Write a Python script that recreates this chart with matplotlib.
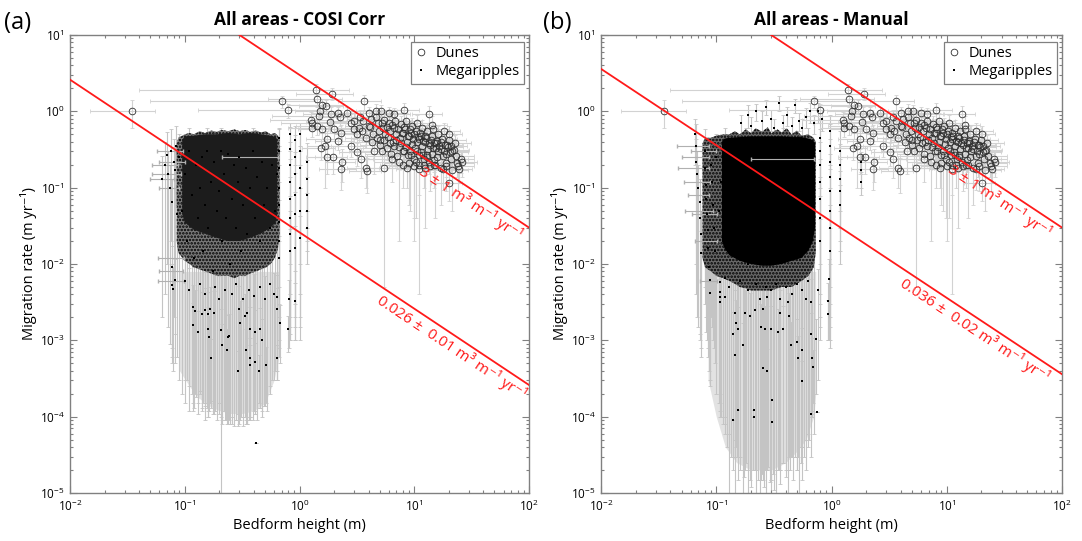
import numpy as np
import matplotlib
matplotlib.use('Agg')
import matplotlib.pyplot as plt
from matplotlib.lines import Line2D
from matplotlib.ticker import LogLocator, NullFormatter

plt.rcParams['font.family'] = ['Open Sans', 'DejaVu Sans']
plt.rcParams['mathtext.fontset'] = 'custom'
plt.rcParams['mathtext.rm'] = 'Open Sans'
plt.rcParams['mathtext.it'] = 'Open Sans:italic'
plt.rcParams['mathtext.bf'] = 'Open Sans:bold'
plt.rcParams['hatch.linewidth'] = 1.2

# dunes (same set in both panels): height, rate, and linear errors
dune_x = [0.035, 0.71, 0.80, 1.38, 1.93, 1.43, 1.58, 1.69, 1.52, 1.48, 1.25, 1.29, 1.87, 2.16, 2.25,
          1.29, 1.43, 1.58, 1.84, 2.0, 2.28, 1.75, 2.16, 1.55, 1.67, 1.75, 2.36, 2.28, 1.97,
          2.61, 2.79, 2.98, 3.19, 2.79, 3.19, 3.41, 3.77, 3.9, 3.65, 4.03, 4.61, 5.1, 6.0, 6.7, 8.1,
          13.5, 14.4, 20.1, 20.8, 25.5, 5.45, 8.7, 20.1, 24.6, 17.9, 14.8, 11.0, 12.1,
          3.6, 3.5, 3.8, 4.2, 4.1, 4.4, 4.3, 4.8, 4.9, 4.7, 5.0, 5.4, 5.3, 5.6, 5.5, 5.2,
          6.0, 6.2, 5.9, 6.1, 6.3, 6.8, 6.6, 7.0, 6.9, 6.7, 7.1, 7.6, 7.8, 7.5, 7.7, 7.9,
          8.5, 8.3, 8.8, 8.6, 8.4, 8.9, 9.5, 9.3, 9.8, 9.6, 9.2, 9.9,
          10.5, 10.3, 10.8, 10.6, 10.2, 10.9, 10.4, 11.7, 11.4, 12.0, 11.8, 11.5, 12.2,
          13.0, 12.7, 13.4, 13.1, 12.8, 13.5, 14.5, 14.2, 14.9, 14.6, 14.3, 15.0,
          16.0, 15.7, 16.4, 16.1, 15.8, 18.0, 17.6, 18.5, 18.2, 17.8, 18.8,
          20.0, 19.6, 20.5, 21.0, 22.5, 22.0, 23.0, 23.5,
          4.5, 5.8, 6.4, 7.3, 8.0, 9.0, 10.0, 11.0, 12.5, 13.8, 15.3, 17.0, 19.0, 21.5, 24.0, 26.0,
          4.6, 5.2, 5.8, 6.4, 7.2, 8.0, 8.1, 9.0, 9.1, 10.0, 11.0, 11.2, 12.4, 12.5, 13.8, 14.0, 15.4, 15.5,
          17.0, 17.2, 19.0, 19.2, 21.5, 5.0, 6.5, 7.4, 8.2, 9.4, 10.6, 11.9, 12.9, 4.0, 3.3, 3.0, 3.4]
dune_y = [1.0, 1.35, 1.03, 1.92, 1.70, 1.45, 1.22, 1.16, 1.0, 0.88, 0.78, 0.71, 0.93, 0.95, 0.85,
          0.61, 0.64, 0.58, 0.72, 0.58, 0.52, 0.44, 0.41, 0.33, 0.35, 0.25, 0.22, 0.174, 0.25,
          0.95, 0.71, 0.58, 0.50, 0.35, 0.29, 0.235, 0.18, 0.165, 1.35, 0.95, 1.0, 1.0, 0.95, 0.91, 1.05,
          0.91, 0.67, 0.50, 0.35, 0.235, 0.18, 0.18, 0.116, 0.174, 0.174, 0.2, 0.174, 0.2,
          0.75, 0.55, 0.45, 0.8, 0.62, 0.5, 0.4, 0.7, 0.55, 0.45, 0.36, 0.78, 0.6, 0.5, 0.42, 0.3,
          0.7, 0.55, 0.46, 0.38, 0.28, 0.75, 0.6, 0.5, 0.42, 0.35, 0.26, 0.68, 0.52, 0.45, 0.38, 0.3,
          0.75, 0.58, 0.48, 0.4, 0.34, 0.27, 0.65, 0.52, 0.43, 0.37, 0.3, 0.24,
          0.7, 0.55, 0.46, 0.4, 0.33, 0.27, 0.22, 0.6, 0.48, 0.41, 0.35, 0.29, 0.24,
          0.55, 0.45, 0.38, 0.32, 0.27, 0.22, 0.58, 0.47, 0.39, 0.33, 0.28, 0.23,
          0.5, 0.41, 0.35, 0.3, 0.25, 0.55, 0.44, 0.36, 0.3, 0.26, 0.21,
          0.42, 0.34, 0.29, 0.24, 0.38, 0.31, 0.26, 0.21,
          0.3, 0.33, 0.24, 0.22, 0.2, 0.21, 0.19, 0.2, 0.18, 0.19, 0.2, 0.18, 0.19, 0.17, 0.19, 0.22,
          0.85, 0.7, 0.62, 0.66, 0.58, 0.52, 0.62, 0.47, 0.58, 0.5, 0.44, 0.52, 0.4, 0.47, 0.36, 0.42, 0.33, 0.38,
          0.32, 0.4, 0.28, 0.36, 0.3, 0.42, 0.4, 0.34, 0.3, 0.27, 0.3, 0.27, 0.25, 0.65, 0.6, 0.75, 0.85]
dune_dx = [0.02, 0.66, 0.67, 1.34, 1.0, 0.9, 0.8, 0.7, 0.6, 0.9, 0.7, 0.6, 0.8, 0.9, 0.8,
           0.5, 0.5, 0.6, 0.7, 0.8, 0.8, 0.6, 0.8, 0.5, 0.5, 0.6, 0.7, 0.8, 0.6,
           1.0, 1.0, 1.2, 1.2, 0.9, 1.0, 1.0, 1.2, 1.2, 1.5, 1.5, 1.8, 2.0, 2.0, 2.5, 3.0,
           4.0, 5.0, 6.0, 8.0, 8.0, 2.0, 3.0, 6.0, 7.0, 5.0, 4.5, 4.0, 4.0,
           1.2, 1.5, 1.0, 1.6, 1.2, 2.0, 1.4, 1.8, 1.5, 2.2, 1.6, 2.0, 2.5, 1.7, 2.2, 1.8,
           2.4, 1.9, 2.8, 2.0, 2.6, 2.5, 3.0, 2.2, 2.8, 2.0, 3.2, 2.8, 3.5, 2.4, 3.0, 2.6,
           3.2, 2.6, 3.8, 3.0, 2.7, 3.5, 3.5, 3.0, 4.2, 3.2, 2.8, 4.0,
           4.0, 3.4, 4.5, 3.6, 3.2, 4.8, 3.8, 4.5, 3.8, 5.0, 4.0, 3.5, 5.5,
           5.0, 4.2, 6.0, 4.5, 4.0, 6.5, 5.5, 4.8, 6.5, 5.0, 4.5, 7.0,
           6.0, 5.0, 7.0, 5.5, 6.5, 7.0, 6.0, 8.0, 6.5, 5.5, 9.0,
           8.0, 7.0, 9.0, 8.5, 9.0, 8.0, 10.0, 9.5,
           1.8, 2.2, 2.5, 2.8, 3.0, 3.5, 4.0, 4.2, 4.8, 5.0, 6.0, 6.5, 7.0, 8.0, 9.0, 9.0,
           1.8, 2.0, 2.2, 2.5, 2.8, 3.0, 3.0, 3.2, 3.5, 3.8, 4.0, 4.2, 4.5, 4.5, 5.0, 5.0, 5.5, 5.5,
           6.0, 6.0, 7.0, 7.0, 8.0, 1.8, 2.4, 2.6, 3.0, 3.2, 3.6, 4.0, 4.5, 1.5, 1.2, 1.1, 1.3]
dune_dy = [0.4, 0.25, 0.2, 0.35, 0.3, 0.3, 0.25, 0.25, 0.2, 0.2, 0.2, 0.15, 0.2, 0.2, 0.2,
           0.15, 0.15, 0.15, 0.2, 0.15, 0.15, 0.12, 0.1, 0.1, 0.25, 0.1, 0.1, 0.08, 0.1,
           0.2, 0.2, 0.15, 0.15, 0.1, 0.1, 0.1, 0.08, 0.08, 0.3, 0.2, 0.25, 0.2, 0.2, 0.2, 0.25,
           0.25, 0.2, 0.15, 0.1, 0.08, 0.175, 0.08, 0.05, 0.06, 0.08, 0.1, 0.17, 0.1,
           0.2, 0.15, 0.12, 0.2, 0.15, 0.12, 0.1, 0.18, 0.14, 0.15, 0.1, 0.2, 0.15, 0.13, 0.12, 0.1,
           0.2, 0.15, 0.12, 0.1, 0.08, 0.2, 0.18, 0.12, 0.15, 0.1, 0.08, 0.18, 0.14, 0.12, 0.1, 0.1,
           0.2, 0.15, 0.14, 0.1, 0.12, 0.08, 0.18, 0.14, 0.12, 0.1, 0.25, 0.2,
           0.2, 0.15, 0.12, 0.12, 0.1, 0.09, 0.18, 0.18, 0.13, 0.11, 0.1, 0.09, 0.08,
           0.15, 0.12, 0.1, 0.11, 0.08, 0.07, 0.15, 0.13, 0.11, 0.1, 0.08, 0.07,
           0.14, 0.12, 0.1, 0.09, 0.08, 0.15, 0.12, 0.1, 0.09, 0.08, 0.07,
           0.12, 0.1, 0.09, 0.08, 0.11, 0.1, 0.08, 0.07,
           0.15, 0.1, 0.12, 0.2, 0.1, 0.15, 0.17, 0.12, 0.15, 0.1, 0.16, 0.12, 0.1, 0.12, 0.1, 0.08,
           0.2, 0.18, 0.15, 0.15, 0.15, 0.14, 0.15, 0.12, 0.14, 0.13, 0.12, 0.13, 0.1, 0.12, 0.1, 0.11, 0.09, 0.1,
           0.09, 0.1, 0.08, 0.1, 0.08, 0.1, 0.1, 0.1, 0.09, 0.08, 0.09, 0.08, 0.08, 0.15, 0.15, 0.2, 0.2]

# megaripples, panel (a) COSI-Corr: height, rate, lower end of rate error bar
mr_a_x = [0.063, 0.067, 0.07, 0.072, 0.074, 0.076, 0.078, 0.08, 0.082, 0.084, 0.086, 0.083, 0.077, 0.079, 0.078,
          0.09, 0.095, 0.1, 0.105, 0.11, 0.115, 0.12, 0.125, 0.13, 0.135, 0.14, 0.145, 0.15, 0.155, 0.16,
          0.17, 0.175, 0.18, 0.19, 0.2, 0.206, 0.21, 0.22, 0.23, 0.24, 0.25, 0.26, 0.27, 0.28, 0.29,
          0.3, 0.31, 0.32, 0.34, 0.35, 0.37, 0.39, 0.41, 0.43, 0.45, 0.47, 0.49, 0.52, 0.55, 0.58, 0.61, 0.64,
          0.119, 0.124, 0.119, 0.13, 0.141, 0.151, 0.161, 0.167, 0.179, 0.161, 0.164, 0.171, 0.211, 0.237,
          0.241, 0.208, 0.234, 0.289, 0.305, 0.333, 0.349, 0.295, 0.342, 0.373, 0.368, 0.413, 0.373, 0.413,
          0.456, 0.472, 0.44, 0.515, 0.64, 0.64, 0.64, 0.67, 0.81, 0.92, 0.80, 0.42,
          0.1, 0.11, 0.135, 0.15, 0.185, 0.2, 0.225, 0.26, 0.28, 0.32, 0.36, 0.4, 0.45, 0.5, 0.55, 0.6,
          0.66, 0.66, 0.66, 0.66, 0.66, 0.66, 0.66, 0.66, 0.83, 0.83, 0.83, 0.83, 0.83, 0.83, 0.83, 0.83,
          0.92, 0.92, 0.92, 0.92, 0.92, 0.92, 1.0, 1.0, 1.0, 1.0, 1.0, 1.0, 1.17, 1.17, 1.17, 1.17, 1.17]
mr_a_y = [0.13, 0.2, 0.27, 0.15, 0.1, 0.3, 0.065, 0.22, 0.17, 0.35, 0.045, 0.0061, 0.0053, 0.0047, 0.009,
          0.25, 0.05, 0.15, 0.02, 0.3, 0.08, 0.012, 0.2, 0.04, 0.1, 0.25, 0.015, 0.06, 0.3, 0.03,
          0.12, 0.008, 0.22, 0.05, 0.09, 0.3, 0.02, 0.15, 0.04, 0.28, 0.01, 0.07, 0.2, 0.03, 0.12,
          0.25, 0.015, 0.06, 0.18, 0.025, 0.1, 0.3, 0.04, 0.14, 0.02, 0.22, 0.06, 0.1, 0.03, 0.2, 0.05, 0.15,
          0.0027, 0.0024, 0.0016, 0.0013, 0.0022, 0.0025, 0.0022, 0.0026, 0.0023, 0.0014, 0.0011, 0.00058, 0.00086, 0.0011,
          0.00115, 0.00135, 0.00074, 0.0004, 0.0017, 0.0021, 0.0023, 0.0026, 0.00074, 0.00058, 0.00048, 0.00052, 0.0014, 0.0013,
          0.0014, 0.001, 0.0004, 0.00048, 0.0037, 0.0026, 0.00058, 0.0017, 0.0035, 0.0033, 0.0014, 0.000045,
          0.006, 0.0045, 0.0055, 0.004, 0.005, 0.0035, 0.0045, 0.004, 0.0055, 0.0035, 0.0045, 0.0038, 0.005, 0.0035, 0.0055, 0.004,
          0.45, 0.3, 0.18, 0.1, 0.06, 0.035, 0.02, 0.012, 0.5, 0.32, 0.2, 0.12, 0.07, 0.04, 0.025, 0.015,
          0.42, 0.25, 0.15, 0.08, 0.045, 0.016, 0.5, 0.3, 0.18, 0.1, 0.05, 0.022, 0.22, 0.13, 0.08, 0.05, 0.03]
mr_a_ylo = [0.002, 0.004, 0.01, 0.0015, 0.0009, 0.02, 0.0008, 0.002, 0.0012, 0.06, 0.0006, 0.0005, 0.0005, 0.0004, 0.0006,
            3e-4, 2e-4, 1.5e-4, 3e-4, 1.2e-4, 2e-4, 1.3e-4, 1.8e-4, 1.1e-4, 2.2e-4, 1.2e-4, 1.5e-4, 9e-5, 1.3e-4, 1e-4,
            1.6e-4, 1.1e-4, 1.2e-4, 9e-5, 1.5e-4, 9e-6, 8e-5, 1.2e-4, 9e-5, 1.3e-4, 8e-5, 1e-4, 7.5e-5, 9e-5, 1.1e-4,
            8e-5, 1e-4, 7.5e-5, 9e-5, 8e-5, 1e-4, 9e-5, 1.1e-4, 9e-5, 1.3e-4, 1e-4, 1.4e-4, 1.2e-4, 2.5e-4, 3e-4, 4e-4, 3e-4,
            1.5e-4, 2e-4, 1.2e-4, 1.5e-4, 1.3e-4, 1.4e-4, 1.2e-4, 1.5e-4, 1.1e-4, 1e-4, 1.2e-4, 1.3e-4, 9e-5, 8e-5,
            9e-5, 1e-4, 8e-5, 7.5e-5, 9e-5, 1e-4, 8e-5, 9e-5, 8e-5, 9e-5, 1e-4, 1.1e-4, 1e-4, 1.2e-4,
            1.3e-4, 1.2e-4, 1.5e-4, 1.5e-4, 3e-4, 4e-4, 3e-4, 5e-4, 8e-4, 1e-3, 7e-4, 4.5e-5,
            3e-4, 2.5e-4, 2e-4, 1.5e-4, 1.2e-4, 1.1e-4, 9e-5, 8e-5, 9e-5, 1e-4, 9e-5, 1.2e-4, 1.3e-4, 1.4e-4, 2e-4, 3e-4,
            0.3, 0.02, 0.005, 0.003, 0.002, 0.001, 0.0008, 0.0006, 0.3, 0.01, 0.004, 0.002, 0.0015, 0.0012, 0.001, 0.001,
            0.2, 0.008, 0.003, 0.002, 0.0015, 0.001, 0.3, 0.01, 0.004, 0.002, 0.0015, 0.001, 0.05, 0.03, 0.02, 0.015, 0.01]
# horizontal error bars that show outside the cloud (panel a)
mr_a_hx = [0.077, 0.07, 0.072, 0.075, 0.065, 0.08, 0.078, 0.078, 0.079, 0.43]
mr_a_hy = [0.3, 0.2, 0.15, 0.1, 0.13, 0.22, 0.012, 0.008, 0.006, 0.25]
mr_a_hdx = [0.02, 0.018, 0.02, 0.015, 0.015, 0.02, 0.02, 0.018, 0.02, 0.22]
# extent of the dense part of the cloud and of its error-bar curtain (panel a)
halo_a_x = [0.085, 0.088, 0.1, 0.11, 0.12, 0.135, 0.15, 0.17, 0.19, 0.21, 0.24, 0.27, 0.3, 0.34, 0.37,
            0.42, 0.46, 0.51, 0.56, 0.61, 0.65, 0.67]
halo_a_top = [0.38, 0.45, 0.5, 0.52, 0.5, 0.55, 0.52, 0.56, 0.54, 0.57, 0.55, 0.58, 0.55, 0.57, 0.54,
              0.56, 0.53, 0.55, 0.5, 0.52, 0.48, 0.42]
halo_a_bot = [0.02, 0.014, 0.011, 0.01, 0.009, 0.0085, 0.008, 0.0075, 0.007, 0.007, 0.007, 0.0065, 0.007, 0.007, 0.0075,
              0.008, 0.0085, 0.009, 0.01, 0.012, 0.016, 0.025]
core_a_x = [0.095, 0.1, 0.12, 0.15, 0.19, 0.24, 0.3, 0.37, 0.46, 0.56, 0.62, 0.64]
core_a_top = [0.42, 0.47, 0.48, 0.5, 0.5, 0.52, 0.5, 0.52, 0.5, 0.48, 0.46, 0.42]
core_a_bot = [0.045, 0.035, 0.028, 0.025, 0.022, 0.02, 0.02, 0.022, 0.025, 0.03, 0.035, 0.045]
curt_a_x = [0.09, 0.11, 0.13, 0.16, 0.2, 0.25, 0.32, 0.4, 0.5, 0.6, 0.66]
curt_a_bot = [4e-4, 2.5e-4, 1.8e-4, 1.4e-4, 1.2e-4, 1.1e-4, 1.1e-4, 1.2e-4, 1.5e-4, 3e-4, 6e-4]

# megaripples, panel (b) manual
mr_b_x = [0.066, 0.067, 0.067, 0.068, 0.069, 0.072, 0.073, 0.074, 0.074, 0.08, 0.08, 0.081, 0.082, 0.083, 0.084,
          0.085, 0.086, 0.0875, 0.0875, 0.09, 0.092, 0.094, 0.096, 0.098,
          0.1, 0.105, 0.11, 0.115, 0.12, 0.125, 0.13, 0.135, 0.14, 0.145, 0.15, 0.155, 0.16, 0.17, 0.175,
          0.18, 0.19, 0.2, 0.21, 0.22, 0.23, 0.24, 0.25, 0.26, 0.27, 0.28, 0.29, 0.3, 0.31, 0.32, 0.33,
          0.35, 0.36, 0.38, 0.4, 0.42, 0.44, 0.46, 0.48, 0.5, 0.52, 0.54, 0.56, 0.58, 0.6, 0.62, 0.64, 0.66, 0.68, 0.7,
          0.107, 0.107, 0.107, 0.107, 0.118, 0.144, 0.149, 0.14, 0.155, 0.171, 0.144, 0.155, 0.14, 0.213, 0.213,
          0.176, 0.195, 0.215, 0.255, 0.277, 0.246, 0.263, 0.3, 0.343, 0.38, 0.255, 0.277, 0.305, 0.305,
          0.355, 0.42, 0.425, 0.449, 0.497, 0.513, 0.556, 0.556, 0.67, 0.67, 0.68, 0.69, 0.67, 0.755, 0.74, 0.765,
          0.935, 0.935, 0.955,
          0.12, 0.13, 0.16, 0.19, 0.22, 0.24, 0.27, 0.3, 0.33, 0.36, 0.4, 0.45, 0.5, 0.55, 0.6, 0.63,
          0.165, 0.19, 0.2, 0.22, 0.25, 0.27, 0.3, 0.32, 0.35, 0.38, 0.41, 0.45, 0.48, 0.52, 0.56, 0.6, 0.65, 0.7, 0.76, 0.82,
          0.79, 0.79, 0.79, 0.79, 0.79, 0.79, 0.79, 0.97, 0.97, 0.97, 0.97, 0.97, 0.97, 0.97, 0.97,
          1.18, 1.18, 1.18, 1.18, 1.18, 1.8, 1.8, 1.8]
mr_b_y = [0.5, 0.35, 0.22, 0.15, 0.1, 0.065, 0.04, 0.025, 0.014, 0.3, 0.18, 0.11, 0.07, 0.045, 0.028,
          0.016, 0.009, 0.0061, 0.0042, 0.2, 0.12, 0.06, 0.03, 0.015,
          0.25, 0.05, 0.12, 0.02, 0.3, 0.08, 0.015, 0.2, 0.04, 0.1, 0.25, 0.012, 0.06, 0.15, 0.03,
          0.3, 0.01, 0.08, 0.2, 0.025, 0.12, 0.05, 0.28, 0.015, 0.09, 0.2, 0.035, 0.15, 0.01, 0.06, 0.25,
          0.02, 0.1, 0.3, 0.04, 0.15, 0.012, 0.07, 0.22, 0.03, 0.12, 0.05, 0.2, 0.018, 0.08, 0.3, 0.04, 0.15, 0.025, 0.1,
          0.0058, 0.0043, 0.0037, 0.0032, 0.0037, 0.0023, 0.0017, 0.0012, 0.0014, 0.00086, 0.00065, 0.000123, 0.000091, 0.000123, 0.000098,
          0.0023, 0.0021, 0.0025, 0.0026, 0.0037, 0.0015, 0.0014, 0.0014, 0.0013, 0.0014, 0.00044, 0.0004, 0.000166, 0.000085,
          0.0023, 0.0032, 0.0021, 0.00088, 0.00096, 0.00058, 0.00029, 0.00074, 0.0032, 0.0012, 0.00059, 0.00045, 0.00011, 0.000115, 0.00105, 0.0045,
          0.0033, 0.0022, 0.0064,
          0.0065, 0.005, 0.006, 0.0045, 0.0055, 0.0035, 0.005, 0.0045, 0.0055, 0.0035, 0.005, 0.004, 0.0055, 0.0045, 0.0035, 0.006,
          0.7, 0.9, 0.65, 1.0, 0.75, 1.15, 0.8, 0.6, 1.3, 0.7, 0.9, 0.65, 1.2, 0.75, 0.6, 0.85, 1.0, 0.7, 1.0, 0.8,
          0.45, 0.3, 0.2, 0.12, 0.07, 0.04, 0.02, 0.55, 0.35, 0.22, 0.14, 0.09, 0.05, 0.03, 0.015,
          0.3, 0.2, 0.13, 0.09, 0.06, 0.22, 0.17, 0.12]
mr_b_ylo = [0.2, 0.01, 0.004, 0.002, 0.0015, 0.0012, 0.001, 0.0008, 0.0006, 0.005, 0.003, 0.002, 0.0013, 0.001, 8e-4,
            6e-4, 4e-4, 3e-4, 2.5e-4, 0.002, 0.0015, 0.001, 8e-4, 5e-4,
            2e-4, 1.5e-4, 1e-4, 8e-5, 6e-5, 4e-5, 9e-6, 3e-5, 2e-5, 9e-6, 3e-5, 1.5e-5, 2e-5, 9e-6, 1.6e-5,
            2.5e-5, 9e-6, 1.2e-5, 2e-5, 9e-6, 1.5e-5, 9e-6, 1.8e-5, 1.2e-5, 9e-6, 2.2e-5, 1.4e-5, 9e-6, 1.8e-5, 1.1e-5, 9e-6,
            2e-5, 1.3e-5, 2.5e-5, 1.6e-5, 9e-6, 2e-5, 1.5e-5, 3e-5, 2e-5, 9e-6, 2.5e-5, 1.5e-5, 3e-5, 2e-5, 4e-5, 5e-5, 3e-5, 1e-4, 6e-5,
            2e-4, 1.5e-4, 1.2e-4, 1e-4, 8e-5, 5e-5, 4e-5, 3e-5, 3e-5, 2e-5, 3e-5, 1.23e-4, 9.1e-5, 1.23e-4, 9.8e-5,
            2e-5, 1.5e-5, 2e-5, 1.5e-5, 2e-5, 1.5e-5, 2e-5, 1.5e-5, 2e-5, 2.5e-5, 2e-5, 2e-5, 1.66e-4, 8.5e-5,
            2e-5, 2e-5, 3e-5, 3e-5, 2e-5, 3e-5, 4e-5, 4e-5, 1e-4, 1e-4, 1.2e-4, 1.5e-4, 1.1e-4, 1.15e-4, 2e-4, 3e-4,
            1e-3, 1e-3, 1e-3,
            1e-4, 6e-5, 3e-5, 2e-5, 2e-5, 1.5e-5, 2e-5, 1.5e-5, 2e-5, 2e-5, 2e-5, 3e-5, 3e-5, 4e-5, 5e-5, 6e-5,
            0.5, 0.6, 0.45, 0.75, 0.5, 0.9, 0.55, 0.4, 1.0, 0.5, 0.65, 0.45, 0.95, 0.55, 0.4, 0.6, 0.7, 0.5, 0.7, 0.55,
            0.1, 0.01, 0.004, 0.003, 0.002, 0.0015, 0.001, 0.2, 0.01, 0.005, 0.003, 0.002, 0.0015, 0.001, 0.0008,
            0.05, 0.03, 0.02, 0.015, 0.01, 0.15, 0.1, 0.08]
mr_b_hx = [0.066, 0.068, 0.067, 0.07, 0.072, 0.074, 0.08, 0.082, 0.084, 0.0875, 0.45]
mr_b_hy = [0.35, 0.25, 0.18, 0.12, 0.08, 0.05, 0.3, 0.045, 0.02, 0.006, 0.24]
mr_b_hdx = [0.02, 0.018, 0.02, 0.018, 0.015, 0.02, 0.02, 0.02, 0.018, 0.015, 0.25]
halo_b_x = [0.076, 0.08, 0.09, 0.1, 0.115, 0.13, 0.145, 0.16, 0.18, 0.2, 0.22, 0.25, 0.28, 0.3, 0.34, 0.37, 0.41,
            0.45, 0.5, 0.55, 0.63, 0.7, 0.73]
halo_b_top = [0.38, 0.45, 0.45, 0.48, 0.5, 0.5, 0.55, 0.5, 0.58, 0.52, 0.6, 0.54, 0.62, 0.52, 0.58, 0.53, 0.6,
              0.5, 0.56, 0.48, 0.5, 0.45, 0.4]
halo_b_bot = [0.012, 0.009, 0.008, 0.007, 0.0065, 0.006, 0.0055, 0.005, 0.0048, 0.0045, 0.0045, 0.0045, 0.0045, 0.0045,
              0.0048, 0.005, 0.005, 0.005, 0.0055, 0.006, 0.007, 0.009, 0.014]
core_b_x = [0.112, 0.118, 0.13, 0.16, 0.2, 0.25, 0.3, 0.37, 0.45, 0.55, 0.63, 0.69, 0.72]
core_b_top = [0.4, 0.44, 0.45, 0.46, 0.47, 0.47, 0.47, 0.47, 0.46, 0.46, 0.44, 0.42, 0.38]
core_b_bot = [0.02, 0.016, 0.013, 0.011, 0.01, 0.0095, 0.0095, 0.01, 0.011, 0.012, 0.015, 0.02, 0.03]
curt_b_x = [0.085, 0.1, 0.12, 0.15, 0.2, 0.3, 0.4, 0.5, 0.6, 0.7, 0.73]
curt_b_bot = [3e-4, 1e-4, 4e-5, 2.5e-5, 2e-5, 2e-5, 2.5e-5, 3.5e-5, 5e-5, 1e-4, 2e-4]

# sediment flux of the fitted lines (m3 m-1 yr-1)
q_dunes = 3
q_mr_a = 0.026
q_mr_b = 0.036

GREY = '#808080'
RED = '#ff1a1a'


def panel(ax, mx, my, mylo, hx, hy, hdx, curt, halo, core, cols, q_mr, title, lab_mr):
    ax.set_xscale('log')
    ax.set_yscale('log')
    ax.set_xlim(1e-2, 1e2)
    ax.set_ylim(1e-5, 1e1)

    mx = np.array(mx); my = np.array(my); mylo = np.array(mylo)
    ax.fill_between(curt[0], curt[1], 0.008, color='#e2e2e2', lw=0, zorder=0.8)
    ax.errorbar(mx, my, yerr=my - mylo, fmt='none', ecolor='#c4c4c4', elinewidth=0.8,
                capsize=1.2, capthick=0.6, zorder=1)
    ax.errorbar(dune_x, dune_y, xerr=dune_dx, yerr=dune_dy, fmt='none', ecolor='#d2d2d2',
                elinewidth=0.8, capsize=1.5, capthick=0.6, zorder=1)
    ax.fill_between(halo[0], halo[2], halo[1], facecolor=cols[0], edgecolor='k', hatch=cols[1],
                    lw=0, zorder=2)
    ax.fill_between(core[0], core[2], core[1], facecolor=cols[2], lw=0, zorder=2.1)
    ax.errorbar(hx, hy, xerr=hdx, fmt='none', ecolor='#b0b0b0', elinewidth=0.8,
                capsize=1.2, zorder=2.5)
    ax.plot(mx, my, 's', ms=1.7, mew=0, color='k', zorder=3)
    ax.plot(dune_x, dune_y, 'o', ms=4.8, mfc='none', mec='#2e2e2e', mew=0.6, zorder=3.5)

    xs = np.array([1e-2, 1e2])
    ax.plot(xs, q_dunes / xs, color=RED, lw=1.3, zorder=4)
    ax.plot(xs, q_mr / xs, color=RED, lw=1.3, zorder=4)

    ax.set_title(title, fontsize=12.5, fontweight='bold', pad=7)
    ax.set_xlabel('Bedform height (m)', fontsize=10.5, labelpad=3)
    ax.set_ylabel('Migration rate (m yr⁻¹)', fontsize=10.5, labelpad=2)

    for axis in (ax.xaxis, ax.yaxis):
        axis.set_major_locator(LogLocator(base=10, numticks=20))
        axis.set_minor_locator(LogLocator(base=10, subs=np.arange(2, 10), numticks=100))
        axis.set_minor_formatter(NullFormatter())
    ax.tick_params(which='both', direction='in', top=True, right=True, color=GREY,
                   labelsize=8.5, width=0.8)
    ax.tick_params(which='major', length=5, pad=4)
    ax.tick_params(which='minor', length=2.5)
    for s in ax.spines.values():
        s.set_color(GREY)
        s.set_linewidth(1.0)

    leg_h = [Line2D([], [], ls='none', marker='o', ms=4.8, mfc='none', mec='#2e2e2e', mew=0.6),
             Line2D([], [], ls='none', marker='s', ms=1.7, mew=0, color='k')]
    leg = ax.legend(leg_h, ['Dunes', 'Megaripples'], loc='upper right', bbox_to_anchor=(0.99, 0.985),
                    borderaxespad=0, fontsize=10.5, fancybox=False, framealpha=1, edgecolor=GREY,
                    handlelength=0.8, handletextpad=0.6, borderpad=0.3, labelspacing=0.2)
    leg.get_frame().set_linewidth(0.9)

    # angle of a line of slope -1 in display space
    p1 = ax.transData.transform((1, 1))
    p2 = ax.transData.transform((10, 0.1))
    ang = np.degrees(np.arctan2(p2[1] - p1[1], p2[0] - p1[0]))
    nx, ny = np.sin(np.radians(ang)), -np.cos(np.radians(ang))
    off = 2.5
    ax.annotate('3 ± 1 m³ m⁻¹ yr⁻¹', xy=(lab_mr[0], q_dunes / lab_mr[0]), xytext=(nx * off, ny * off),
                textcoords='offset points', rotation=ang, rotation_mode='anchor',
                ha='left', va='top', color=RED, fontsize=11, zorder=5)
    ax.annotate(lab_mr[2], xy=(lab_mr[1], q_mr / lab_mr[1]), xytext=(nx * off, ny * off),
                textcoords='offset points', rotation=ang, rotation_mode='anchor',
                ha='left', va='top', color=RED, fontsize=11, zorder=5)


fig = plt.figure(figsize=(10.82, 5.41), dpi=100)
W, H = 1082, 541
ax_a = fig.add_axes([70 / W, 48 / H, 459 / W, 458 / H])
ax_b = fig.add_axes([601 / W, 48 / H, 461 / W, 458 / H])

panel(ax_a, mr_a_x, mr_a_y, mr_a_ylo, mr_a_hx, mr_a_hy, mr_a_hdx,
      (curt_a_x, curt_a_bot), (halo_a_x, halo_a_top, halo_a_bot), (core_a_x, core_a_top, core_a_bot),
      ('#7a7a7a', '.....', '#1c1c1c'), q_mr_a, 'All areas - COSI Corr',
      (13.0, 5.6, '0.026 ±  0.01 m³ m⁻¹ yr⁻¹'))
panel(ax_b, mr_b_x, mr_b_y, mr_b_ylo, mr_b_hx, mr_b_hy, mr_b_hdx,
      (curt_b_x, curt_b_bot), (halo_b_x, halo_b_top, halo_b_bot), (core_b_x, core_b_top, core_b_bot),
      ('#6a6a6a', '.....', '#000000'), q_mr_b, 'All areas - Manual',
      (12.2, 4.6, '0.036 ±  0.02 m³ m⁻¹ yr⁻¹'))

fig.text(4 / W, 1 - 23 / H, '(a)', fontsize=17, va='center', ha='left')
fig.text(543 / W, 1 - 23 / H, '(b)', fontsize=17, va='center', ha='left')

fig.savefig('out.png', dpi=100)
